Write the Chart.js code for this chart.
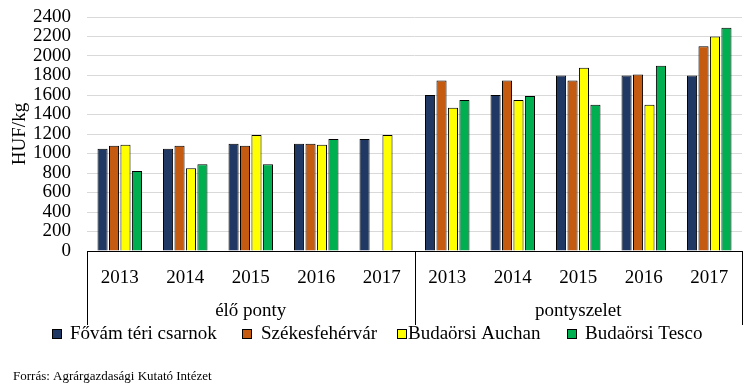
<!DOCTYPE html>
<html>
<head>
<meta charset="utf-8">
<script src="https://cdn.jsdelivr.net/npm/chart.js@4.4.0/dist/chart.umd.min.js"></script>
<style>
  html, body { margin: 0; padding: 0; background: #fff; }
</style>
</head>
<body>
<canvas id="chart" width="756" height="384"></canvas>
<script>
// categories and values (HUF/kg)
const years = ['2013', '2014', '2015', '2016', '2017', '2013', '2014', '2015', '2016', '2017'];
const groups = ['élő ponty', 'pontyszelet'];
const seriesNames = ['Fővám téri csarnok', 'Székesfehérvár', 'Budaörsi Auchan', 'Budaörsi Tesco'];
const fovam = [1050, 1050, 1100, 1100, 1150, 1600, 1600, 1800, 1800, 1800];
const szekesfehervar = [1080, 1080, 1080, 1100, null, 1750, 1750, 1750, 1810, 2100];
const auchan = [1090, 850, 1190, 1090, 1190, 1470, 1550, 1880, 1500, 2200];
const tesco = [820, 890, 890, 1150, null, 1550, 1590, 1500, 1900, 2290];
const source = 'Forrás: Agrárgazdasági Kutató Intézet';

const colors = ['#203864', '#c55a11', '#ffff00', '#00b050'];
const serif = "'Liberation Serif', 'Times New Roman', serif";

// group labels, separator lines, legend and source line
const extras = {
  id: 'extras',
  afterDraw(chart) {
    const ctx = chart.ctx;
    const area = chart.chartArea;
    const x = chart.scales.x;
    const mid = (x.getPixelForValue(4) + x.getPixelForValue(5)) / 2;
    ctx.save();
    ctx.strokeStyle = '#000';
    ctx.lineWidth = 1;
    ctx.beginPath();
    [area.left, mid, area.right].forEach(px => {
      const p = Math.round(px) + 0.5;
      ctx.moveTo(p, area.bottom);
      ctx.lineTo(p, 325);
    });
    ctx.stroke();

    ctx.fillStyle = '#000';
    ctx.font = '19px ' + serif;
    ctx.textAlign = 'center';
    ctx.textBaseline = 'middle';
    ctx.fillText(groups[0], (area.left + mid) / 2, 311);
    ctx.fillText(groups[1], (mid + area.right) / 2, 311);

    // legend
    const boxX = [52, 242, 397, 567];
    const textX = [70, 261, 408, 585];
    ctx.textAlign = 'left';
    chart.data.datasets.forEach((ds, i) => {
      ctx.fillStyle = ds.backgroundColor;
      ctx.fillRect(boxX[i] + 0.5, 329.5, 9, 9);
      ctx.strokeRect(boxX[i] + 0.5, 329.5, 9, 9);
      ctx.fillStyle = '#000';
      ctx.fillText(ds.label, textX[i], 334);
    });

    ctx.font = '13px ' + serif;
    ctx.fillText(source, 13, 377);
    ctx.restore();
  }
};

const makeSet = (label, data, i) => ({
  label: label,
  data: data,
  backgroundColor: colors[i],
  borderColor: '#000',
  borderWidth: 1,
  categoryPercentage: 0.7,
  barPercentage: 0.88
});

new Chart(document.getElementById('chart'), {
  type: 'bar',
  data: {
    labels: years,
    datasets: [
      makeSet(seriesNames[0], fovam, 0),
      makeSet(seriesNames[1], szekesfehervar, 1),
      makeSet(seriesNames[2], auchan, 2),
      makeSet(seriesNames[3], tesco, 3)
    ]
  },
  options: {
    responsive: false,
    devicePixelRatio: 1,
    animation: false,
    layout: { padding: { left: 0, top: 17, right: 14, bottom: 0 } },
    plugins: {
      legend: { display: false },
      tooltip: { enabled: false }
    },
    scales: {
      x: {
        grid: { display: false, drawTicks: false },
        border: { display: true, color: '#000', width: 1 },
        ticks: { color: '#000', font: { family: serif, size: 19 }, padding: 16, autoSkip: false, maxRotation: 0 },
        afterFit(scale) { scale.height = 133; }
      },
      y: {
        min: 0,
        max: 2400,
        grid: { color: '#d9d9d9', drawTicks: false },
        border: { display: false },
        ticks: {
          stepSize: 200, color: '#000', font: { family: serif, size: 19 }, padding: 16, autoSkip: false,
          callback: v => String(v)
        },
        title: { display: true, text: 'HUF/kg', color: '#000', font: { family: serif, size: 19 }, padding: { top: 9, bottom: 0 } },
        afterFit(scale) {
          scale.width = 87;
          scale.paddingTop = 0;
          scale.paddingBottom = 0;
        }
      }
    }
  },
  plugins: [extras]
});
</script>
</body>
</html>
